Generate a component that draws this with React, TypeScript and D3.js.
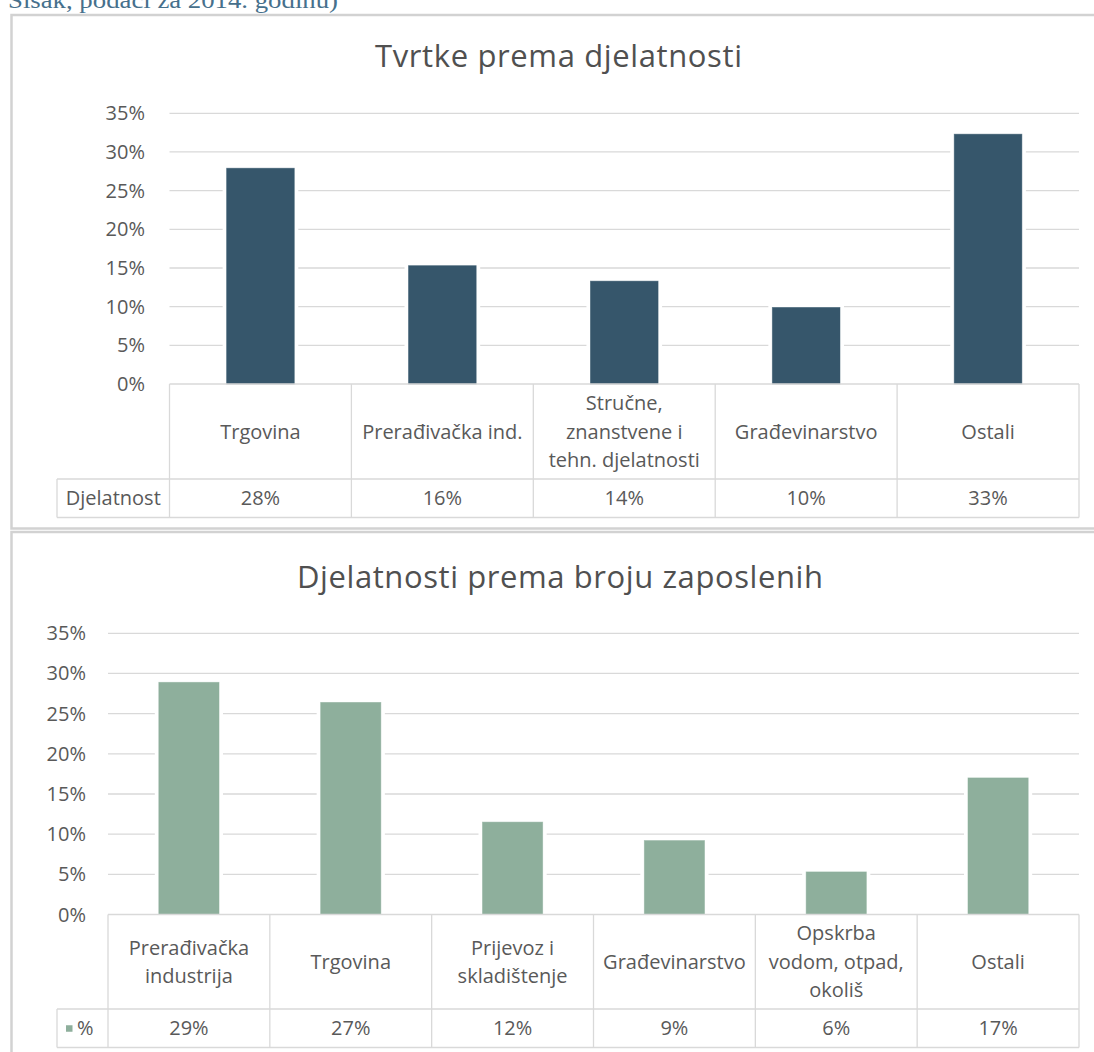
import React from "react";
import * as d3 from "d3";

const topTitle = "Tvrtke prema djelatnosti";
const topCategories = [["Trgovina"], ["Prerađivačka ind."], ["Stručne,", "znanstvene i", "tehn. djelatnosti"], ["Građevinarstvo"], ["Ostali"]];
const topValues = [27.9, 15.3, 13.3, 9.9, 32.3];
const topLabels = ["28%", "16%", "14%", "10%", "33%"];
const topSeriesName = "Djelatnost";

const botTitle = "Djelatnosti prema broju zaposlenih";
const botCategories = [["Prerađivačka", "industrija"], ["Trgovina"], ["Prijevoz i", "skladištenje"], ["Građevinarstvo"], ["Opskrba", "vodom, otpad,", "okoliš"], ["Ostali"]];
const botValues = [28.9, 26.4, 11.5, 9.2, 5.3, 17.0];
const botLabels = ["29%", "27%", "12%", "9%", "6%", "17%"];
const botSeriesName = "%";

const yTicks = [0, 5, 10, 15, 20, 25, 30, 35];

const FONT = "'Open Sans', 'Noto Sans', sans-serif";
const GRID = "#d9d9d9";
const TXT = "#595959";

type ChartProps = {
  title: string;
  titleX: number;
  titleY: number;
  titleWidth: number;
  categories: string[][];
  values: number[];
  labels: string[];
  seriesName: string;
  color: string;
  x0: number;
  x1: number;
  yTop: number;
  yZero: number;
  tickRight: number;
  legendLeft: number;
  rowMid: number;
  rowBottom: number;
  legendSwatch: boolean;
};

function Chart(p: ChartProps) {
  const x = d3
    .scaleBand<number>()
    .domain(p.values.map((_, i) => i))
    .range([p.x0, p.x1])
    .paddingInner(0.628)
    .paddingOuter(0.314);
  const y = d3.scaleLinear().domain([0, 35]).range([p.yZero, p.yTop]);
  const step = x.step();
  const colStart = (i: number) => p.x0 + i * step;
  const lineH = 28.5;
  const catMid = (p.yZero + p.rowMid) / 2;
  const valMid = (p.rowMid + p.rowBottom) / 2;
  return (
    <g>
      <text
        x={p.titleX}
        y={p.titleY}
        textAnchor="middle"
        fontSize={31}
        fill="#505050"
        fontFamily={FONT}
        textLength={p.titleWidth}
        lengthAdjust="spacing"
      >
        {p.title}
      </text>
      {yTicks.map((t) => (
        <g key={t}>
          {t > 0 && (
            <line x1={p.x0} x2={p.x1} y1={y(t)} y2={y(t)} stroke={GRID} strokeWidth={1.3} />
          )}
          <text
            x={p.tickRight}
            y={y(t) + 7}
            textAnchor="end"
            fontSize={20}
            fill={TXT}
            fontFamily={FONT}
          >
            {t + "%"}
          </text>
        </g>
      ))}
      {p.values.map((v, i) => (
        <g key={i}>
          <rect
            x={(x(i) as number) - 4}
            y={y(v) - 4}
            width={x.bandwidth() + 8}
            height={p.yZero - y(v) + 4}
            fill="#ffffff"
          />
          <rect
            x={x(i) as number}
            y={y(v)}
            width={x.bandwidth()}
            height={p.yZero - y(v)}
            fill={p.color}
            stroke={p.color}
            strokeOpacity={0.6}
            strokeWidth={0.8}
          />
        </g>
      ))}
      {/* data table */}
      <g stroke={GRID} strokeWidth={1.3} fill="none">
        <line x1={p.x0} x2={p.x1} y1={p.yZero} y2={p.yZero} />
        <line x1={p.legendLeft} x2={p.x1} y1={p.rowMid} y2={p.rowMid} />
        <line x1={p.legendLeft} x2={p.x1} y1={p.rowBottom} y2={p.rowBottom} />
        <line x1={p.legendLeft} x2={p.legendLeft} y1={p.rowMid} y2={p.rowBottom} />
        {p.values.map((_, i) => (
          <line key={i} x1={colStart(i)} x2={colStart(i)} y1={p.yZero} y2={p.rowBottom} />
        ))}
        <line x1={p.x1} x2={p.x1} y1={p.yZero} y2={p.rowBottom} />
      </g>
      {p.categories.map((lines, i) => (
        <text
          key={i}
          textAnchor="middle"
          fontSize={20}
          fill={TXT}
          fontFamily={FONT}
        >
          {lines.map((ln, j) => (
            <tspan
              key={j}
              x={colStart(i) + step / 2}
              y={catMid + (j - (lines.length - 1) / 2) * lineH + 7}
            >
              {ln}
            </tspan>
          ))}
        </text>
      ))}
      {p.labels.map((l, i) => (
        <text
          key={i}
          x={colStart(i) + step / 2}
          y={valMid + 7}
          textAnchor="middle"
          fontSize={20}
          fill={TXT}
          fontFamily={FONT}
        >
          {l}
        </text>
      ))}
      {p.legendSwatch ? (
        <g>
          <rect x={p.legendLeft + 9} y={valMid - 3} width={6.5} height={6.5} fill={p.color} />
          <text x={p.legendLeft + 20} y={valMid + 7} fontSize={20} fill={TXT} fontFamily={FONT}>
            {p.seriesName}
          </text>
        </g>
      ) : (
        <text
          x={(p.legendLeft + p.x0) / 2}
          y={valMid + 7}
          textAnchor="middle"
          fontSize={20}
          fill={TXT}
          fontFamily={FONT}
        >
          {p.seriesName}
        </text>
      )}
    </g>
  );
}

export default function App() {
  return (
    <svg
      width={1094}
      height={1052}
      style={{ position: "absolute", left: 0, top: 0, background: "#ffffff" }}
    >
      <rect x={0} y={0} width={1094} height={1052} fill="#ffffff" />
      <text
        x={8}
        y={8}
        fontSize={24}
        fill="#46708c"
        fontFamily="'Liberation Serif', 'DejaVu Serif', serif"
        textLength={330}
        lengthAdjust="spacingAndGlyphs"
      >
        Sisak, podaci za 2014. godinu)
      </text>
      {/* chart frames */}
      <rect x={11.5} y={15} width={1100} height={513.5} fill="none" stroke="#d2d2d2" strokeWidth={2.5} />
      <rect x={11.5} y={532} width={1100} height={540} fill="none" stroke="#d2d2d2" strokeWidth={2.5} />
      <Chart
        title={topTitle}
        titleX={558.5}
        titleY={67}
        titleWidth={367}
        categories={topCategories}
        values={topValues}
        labels={topLabels}
        seriesName={topSeriesName}
        color="#36566b"
        x0={169.5}
        x1={1079}
        yTop={113.3}
        yZero={384}
        tickRight={145}
        legendLeft={57}
        rowMid={479}
        rowBottom={517.5}
        legendSwatch={false}
      />
      <Chart
        title={botTitle}
        titleX={560}
        titleY={588}
        titleWidth={526}
        categories={botCategories}
        values={botValues}
        labels={botLabels}
        seriesName={botSeriesName}
        color="#8eaf9c"
        x0={108}
        x1={1079}
        yTop={633.3}
        yZero={914.5}
        tickRight={86}
        legendLeft={57}
        rowMid={1009}
        rowBottom={1047.5}
        legendSwatch={true}
      />
    </svg>
  );
}
